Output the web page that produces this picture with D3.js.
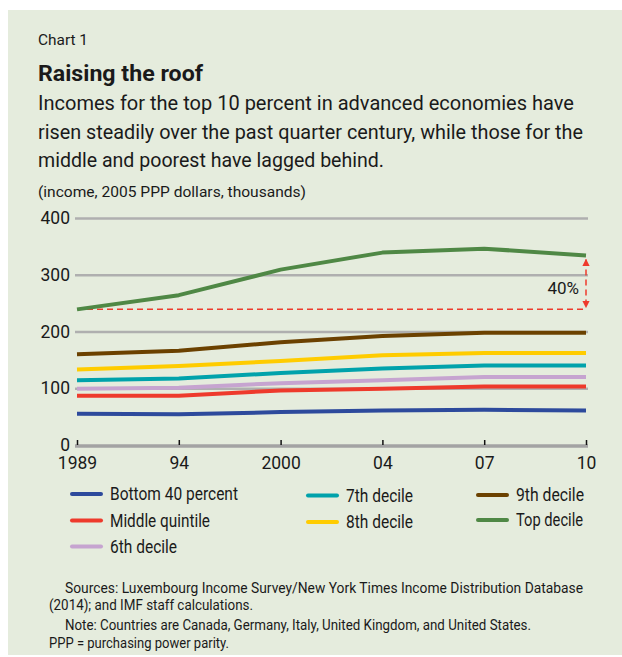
<!DOCTYPE html>
<html><head><meta charset="utf-8">
<script src="https://cdn.jsdelivr.net/npm/d3@7"></script>
<style>
html,body{margin:0;padding:0;background:#fff;}
svg text{font-family:"Roboto","Liberation Sans",sans-serif;fill:#1a1a1a;}
</style></head>
<body><svg id="c" width="622" height="657"></svg>
<script>
const years = ["1989","94","2000","04","07","10"];
const seriesNames = ["Bottom 40 percent","Middle quintile","6th decile","7th decile","8th decile","9th decile","Top decile"];
const bottom40 = [55,54,58,61,62,61];
const middleQuintile = [87,87,96,99,103,103];
const decile6 = [99,101,109,114,120,120];
const decile7 = [114,117,127,135,140,140];
const decile8 = [133,139,148,158,162,162];
const decile9 = [160,166,181,192,198,198];
const topDecile = [239,264,309,339,346,334];
const yTicks = [0,100,200,300,400];
const colors = ["#2d4a9c","#ee3a2c","#c6a4d0","#00a2ab","#ffcc00","#6b4100","#4f8845"];
const allSeries = [bottom40,middleQuintile,decile6,decile7,decile8,decile9,topDecile];

const svg = d3.select("#c");
svg.append("rect").attr("x",8).attr("y",10).attr("width",614).attr("height",645).attr("fill","#e5ecdd");

function fit(t,w){
  const n = t.node().getComputedTextLength();
  if(w && Math.abs(n-w)>0.5) t.attr("textLength",w).attr("lengthAdjust","spacingAndGlyphs");
  return t;
}
function txt(x,y,s,size,w,opts={}){
  const t = svg.append("text").attr("x",x).attr("y",y).attr("font-size",size).text(s);
  if(opts.bold) t.attr("font-weight","bold");
  return fit(t,w);
}
txt(38,45,"Chart 1",14.5,50);
txt(38,81,"Raising the roof",22,165,{bold:true});
txt(38,110,"Incomes for the top 10 percent in advanced economies have",21,536);
txt(38,139,"risen steadily over the past quarter century, while those for the",21,545);
txt(38,167,"middle and poorest have lagged behind.",21,346);
txt(38,197,"(income, 2005 PPP dollars, thousands)",15,268);

const x = d3.scalePoint().domain(years).range([77,586]);
const y = d3.scaleLinear().domain([0,400]).range([445,218]);

// gridlines
const grid = svg.append("g").attr("transform","translate(75,0)")
  .call(d3.axisRight(y).tickValues(yTicks.filter(v=>v>0)).tickSize(513).tickFormat(""));
grid.select(".domain").remove();
grid.selectAll("line").attr("stroke","#afafaf").attr("stroke-width",2.5);

// y labels
const ya = svg.append("g").attr("transform","translate(70,0)")
  .call(d3.axisLeft(y).tickValues(yTicks).tickSize(0).tickPadding(0));
ya.select(".domain").remove();
ya.selectAll("text").attr("font-size",17.5).attr("fill","#1a1a1a").attr("font-family",null);

// baseline
svg.append("line").attr("x1",75).attr("x2",588).attr("y1",y(0)+1).attr("y2",y(0)+1)
  .attr("stroke","#a3a3a3").attr("stroke-width",3.5);

// x axis
const xa = svg.append("g").attr("transform",`translate(0,${y(0)})`)
  .call(d3.axisBottom(x).tickSizeInner(-5).tickSizeOuter(0).tickPadding(12));
xa.select(".domain").remove();
xa.selectAll("line").attr("stroke","#111").attr("stroke-width",1.5);
xa.selectAll("text").attr("font-size",17.5).attr("fill","#1a1a1a").attr("font-family",null).attr("dy","0.71em");

// dashed reference
const red = "#ee3a2c";
svg.append("line").attr("x1",x("1989")).attr("x2",x("10")).attr("y1",y(topDecile[0])).attr("y2",y(topDecile[0]))
  .attr("stroke",red).attr("stroke-width",1.5).attr("stroke-dasharray","6,4");
const defs = svg.append("defs");
defs.append("marker").attr("id","ah").attr("viewBox","0 0 10 10").attr("refX",9).attr("refY",5)
  .attr("markerWidth",5).attr("markerHeight",5).attr("orient","auto-start-reverse")
  .append("path").attr("d","M0,0L10,5L0,10z").attr("fill",red);
svg.append("line").attr("x1",x("10")).attr("x2",x("10"))
  .attr("y1",y(topDecile[5])+4).attr("y2",y(topDecile[0])-2)
  .attr("stroke",red).attr("stroke-width",1.5).attr("stroke-dasharray","6,4")
  .attr("marker-start","url(#ah)").attr("marker-end","url(#ah)");
fit(svg.append("text").attr("x",579).attr("y",294).attr("font-size",17).attr("text-anchor","end").text("40%"),32);

// lines
const line = d3.line().x((d,i)=>x(years[i])).y(d=>y(d));
allSeries.forEach((s,i)=>{
  svg.append("path").datum(s).attr("d",line).attr("fill","none")
    .attr("stroke",colors[i]).attr("stroke-width",4).attr("stroke-linejoin","round");
});

// legend
const legPos = [[72,494],[72,520.5],[72,546.5],[308,495.5],[308,522],[478,495],[478,520]];
const legW = [128,100,67,67,67,68,67];
seriesNames.forEach((n,i)=>{
  const [lx,ly] = legPos[i];
  svg.append("line").attr("x1",lx).attr("x2",lx+29).attr("y1",ly).attr("y2",ly)
    .attr("stroke",colors[i]).attr("stroke-width",4).attr("stroke-linecap","round");
  fit(svg.append("text").attr("x",lx+38).attr("y",ly).attr("dy","0.35em").attr("font-size",17.5).text(n),legW[i]);
});

// notes
txt(65,593,"Sources: Luxembourg Income Survey/New York Times Income Distribution Database",14,518);
txt(49,610,"(2014); and IMF staff calculations.",14,204);
txt(65,630,"Note: Countries are Canada, Germany, Italy, United Kingdom, and United States.",14,466);
txt(49,648,"PPP = purchasing power parity.",14,180);
</script></body></html>
